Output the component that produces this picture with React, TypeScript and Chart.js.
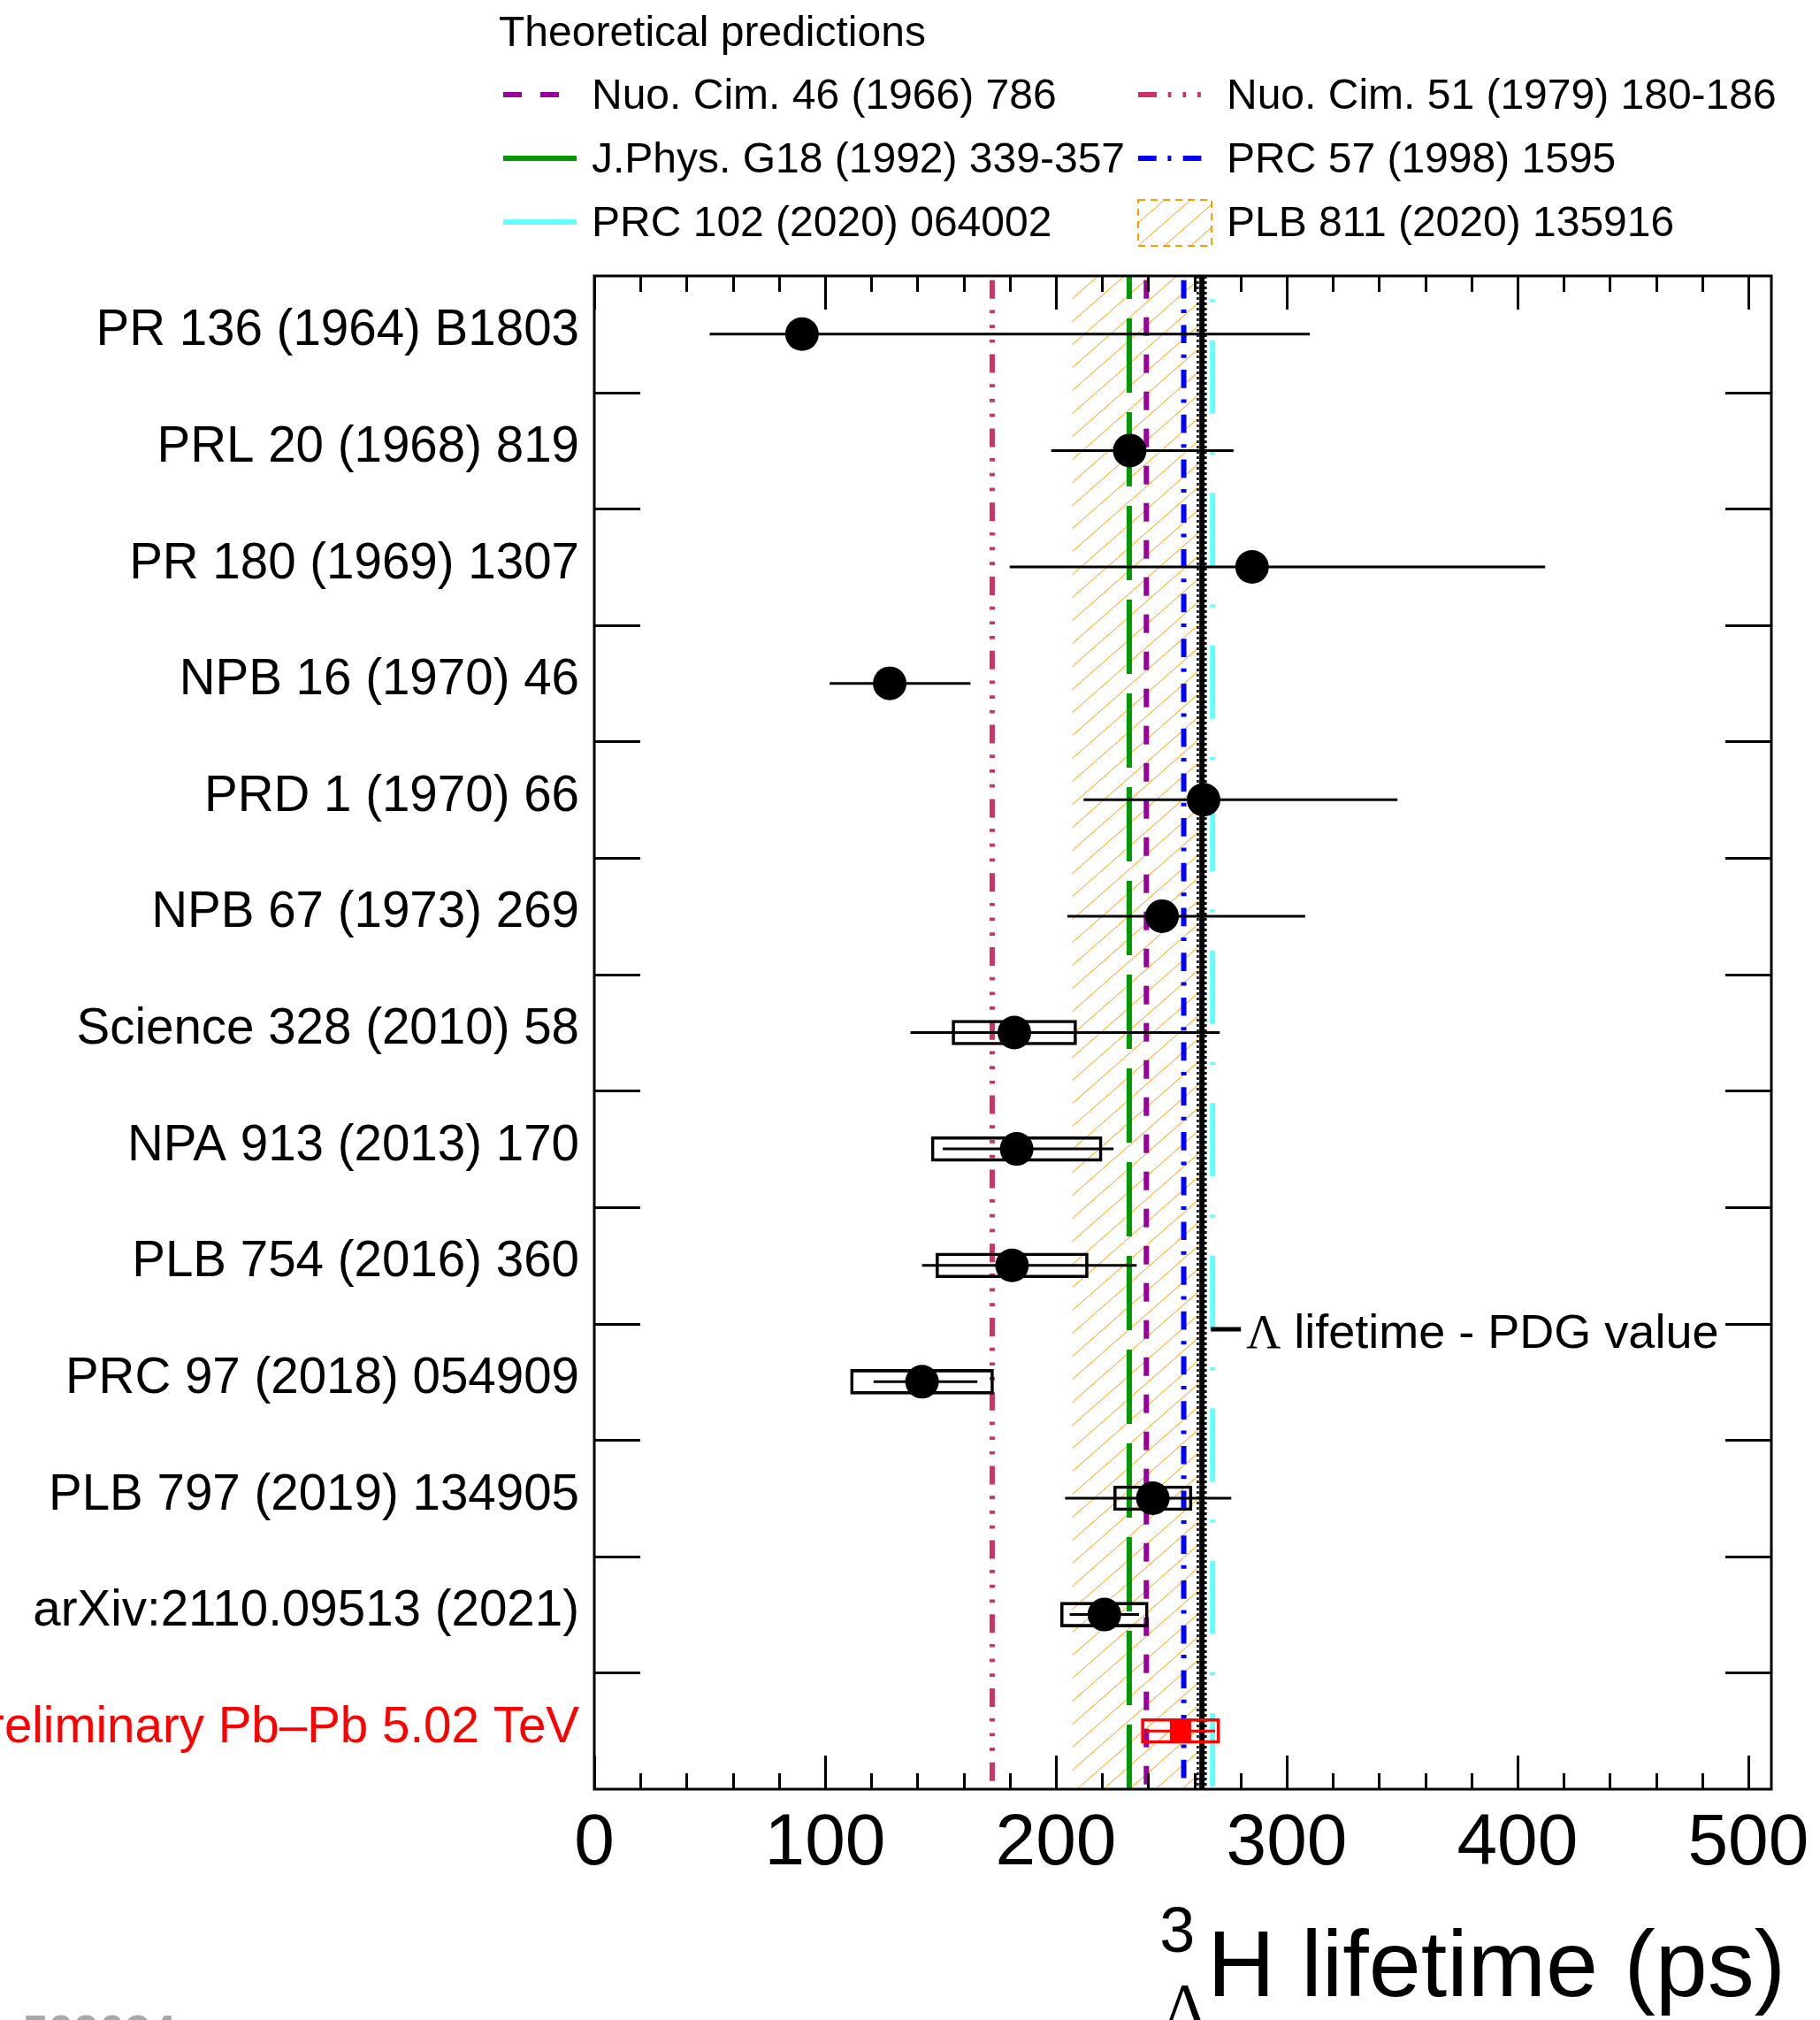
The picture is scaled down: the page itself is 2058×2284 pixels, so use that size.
import React, { useEffect, useRef } from "react";
import { Chart, registerables } from "chart.js";

Chart.register(...registerables);

const FONT = '"Liberation Sans", Arial, Helvetica, sans-serif';
const SERIF = '"Liberation Serif", "Times New Roman", serif';

// ---------------- data ----------------
const categories = [
  "PR 136 (1964) B1803",
  "PRL 20 (1968) 819",
  "PR 180 (1969) 1307",
  "NPB 16 (1970) 46",
  "PRD 1 (1970) 66",
  "NPB 67 (1973) 269",
  "Science 328 (2010) 58",
  "NPA 913 (2013) 170",
  "PLB 754 (2016) 360",
  "PRC 97 (2018) 054909",
  "PLB 797 (2019) 134905",
  "arXiv:2110.09513 (2021)",
  "ALICE Preliminary Pb\u2013Pb 5.02 TeV",
];
const lifetimes = [90, 232, 285, 128, 264, 246, 182, 183, 181, 142, 242, 221, 254];
const statErrLow = [40, 34, 105, 26, 52, 41, 45, 32, 39, 21, 38, 15, 15];
const statErrHigh = [220, 45, 127, 35, 84, 62, 89, 42, 54, 24, 34, 15, 15];
const systErr: (number | null)[] = [null, null, null, null, null, null, 27, 37, 33, 31, 17, 19, 17];
const isPreliminary = [false, false, false, false, false, false, false, false, false, false, false, false, true];

const legendTitle = "Theoretical predictions";
const theoryLabels = [
  "Nuo. Cim. 46 (1966) 786",
  "Nuo. Cim. 51 (1979) 180-186",
  "J.Phys. G18 (1992) 339-357",
  "PRC 57 (1998) 1595",
  "PRC 102 (2020) 064002",
];
const theoryValues = [239.2, 172.4, 231.8, 255.4, 267.9];
const bandLabel = "PLB 811 (2020) 135916";
const bandRange = [207, 262];

const pdgLabel = " lifetime - PDG value";
const pdgValue = 263.3;
const pdgRange = [261.5, 264.9];

const xMin = 0;
const xMax = 510;
const xTickLabels = [0, 100, 200, 300, 400, 500];
const xMajorStep = 100;
const xMinorStep = 20;
const xTitle = "H lifetime (ps)";
const watermark = "ALI-PREL-509034";

// ---------------- styles ----------------
const theoryColors = ["#990099", "#cc3366", "#009900", "#0000ff", "#66ffff"];
const theoryDashes = [
  [21, 21],
  [21, 12.7, 3.7, 13, 3.7, 13, 3.7, 13],
  [84, 22],
  [20.7, 12.7, 4, 13.3],
  [83, 43, 3.5, 43],
];
const theoryDashOffsets = [37.3, 79, 58, 46, 99.7];
const bandColor = "#ff9900";

const markColor = (i: number) => (isPreliminary[i] ? "#ff0000" : "#000000");

function drawHatch(ctx: CanvasRenderingContext2D, x0: number, y0: number, x1: number, y1: number) {
  const s = 0.878;
  const step = 26;
  ctx.save();
  ctx.beginPath();
  ctx.rect(x0, y0, x1 - x0, y1 - y0);
  ctx.clip();
  ctx.strokeStyle = bandColor;
  ctx.lineWidth = 1;
  ctx.setLineDash([]);
  ctx.beginPath();
  const w = x1 - x0;
  for (let c = y0; c <= y1 + s * w + step; c += step) {
    ctx.moveTo(x0, c);
    ctx.lineTo(x1, c - s * w);
  }
  ctx.stroke();
  ctx.restore();
}

const rootPlugin = {
  id: "rootStyle",
  beforeDatasetsDraw(chart: any) {
    const { ctx, chartArea: a, scales } = chart;
    const x = scales.x;
    const bx0 = x.getPixelForValue(bandRange[0]);
    const bx1 = x.getPixelForValue(bandRange[1]);
    drawHatch(ctx, bx0, a.top, bx1, a.bottom);
  },
  afterDatasetsDraw(chart: any) {
    const { ctx, chartArea: a, scales } = chart;
    const x = scales.x;
    const y = scales.y;
    ctx.save();
    ctx.strokeStyle = "#000";
    ctx.lineWidth = 3;
    ctx.setLineDash([]);
    ctx.beginPath();
    for (let v = xMin; v <= xMax + 1e-9; v += xMinorStep) {
      const px = Math.round(x.getPixelForValue(v)) + 0.5;
      const len = v % xMajorStep === 0 ? 38 : 18;
      ctx.moveTo(px, a.bottom);
      ctx.lineTo(px, a.bottom - len);
      ctx.moveTo(px, a.top);
      ctx.lineTo(px, a.top + len);
    }
    for (let i = 0; i < categories.length - 1; i++) {
      const py = Math.round(y.getPixelForValue(i + 0.5)) + 0.5;
      ctx.moveTo(a.left, py);
      ctx.lineTo(a.left + 52, py);
      ctx.moveTo(a.right - 52, py);
      ctx.lineTo(a.right, py);
    }
    ctx.stroke();
    ctx.strokeRect(a.left, a.top, a.right - a.left, a.bottom - a.top);
    ctx.restore();
  },
  afterDraw(chart: any) {
    const { ctx, chartArea: a, scales } = chart;
    const x = scales.x;
    const y = scales.y;
    ctx.save();
    ctx.textAlign = "left";
    ctx.textBaseline = "alphabetic";
    ctx.fillStyle = "#000";

    // legend
    ctx.font = `48px ${FONT}`;
    ctx.fillText(legendTitle, 564, 52);
    const colX = [569, 1287];
    const textX = [669, 1387];
    const rowY = [107, 179, 251];
    const entries = theoryLabels.length + 1;
    for (let k = 0; k < entries; k++) {
      const row = Math.floor(k / 2);
      const col = k % 2;
      const sx = colX[col];
      const cy = rowY[row];
      if (k < theoryLabels.length) {
        ctx.save();
        ctx.strokeStyle = theoryColors[k];
        ctx.lineWidth = 6;
        ctx.setLineDash(theoryDashes[k]);
        ctx.lineDashOffset = 0;
        ctx.beginPath();
        ctx.moveTo(sx, cy);
        ctx.lineTo(sx + 83, cy);
        ctx.stroke();
        ctx.restore();
        ctx.fillStyle = "#000";
        ctx.fillText(theoryLabels[k], textX[col], cy + 16);
      } else {
        drawHatch(ctx, sx, cy - 25, sx + 83, cy + 27);
        ctx.save();
        ctx.strokeStyle = bandColor;
        ctx.lineWidth = 2;
        ctx.setLineDash([8, 6]);
        ctx.strokeRect(sx, cy - 25, 83, 52);
        ctx.restore();
        ctx.fillStyle = "#000";
        ctx.fillText(bandLabel, textX[col], cy + 16);
      }
    }

    // PDG annotation
    const px = x.getPixelForValue(pdgValue);
    const py = y.getPixelForValue(8.55);
    ctx.strokeStyle = "#000";
    ctx.lineWidth = 5;
    ctx.setLineDash([]);
    ctx.beginPath();
    ctx.moveTo(px + 10, py);
    ctx.lineTo(px + 44, py);
    ctx.stroke();
    ctx.font = `54px ${SERIF}`;
    ctx.fillText("\u039B", px + 50, py + 21);
    const lw = ctx.measureText("\u039B").width;
    ctx.font = `54px ${FONT}`;
    ctx.fillText(pdgLabel, px + 50 + lw, py + 21);

    // x-axis title
    ctx.font = `106px ${FONT}`;
    const tw = ctx.measureText(xTitle).width;
    const hx = a.right + 16 - tw;
    ctx.fillText(xTitle, hx, 2257);
    ctx.font = `72px ${FONT}`;
    ctx.fillText("3", hx - 54, 2207);
    ctx.font = `72px ${SERIF}`;
    ctx.fillText("\u039B", hx - 51, 2292);

    // watermark
    ctx.font = `bold 52px ${FONT}`;
    ctx.fillStyle = "#a8a8a8";
    ctx.textAlign = "right";
    ctx.fillText(watermark, 199, 2315);
    ctx.restore();
  },
};

export default function App() {
  const ref = useRef<HTMLCanvasElement>(null);

  useEffect(() => {
    document.body.style.margin = "0";
    document.body.style.overflow = "hidden";
    const canvas = ref.current;
    if (!canvas) return;

    const yTop = -0.5;
    const yBottom = categories.length - 0.5;

    const theoryDatasets = theoryValues.map((v, k) => ({
      type: "line" as const,
      label: theoryLabels[k],
      data: [
        { x: v, y: yTop },
        { x: v, y: yBottom },
      ],
      borderColor: theoryColors[k],
      borderWidth: 6,
      borderDash: theoryDashes[k],
      borderDashOffset: theoryDashOffsets[k],
      pointRadius: 0,
      pointHoverRadius: 0,
      fill: false,
      tension: 0,
      order: 4,
    }));

    const pdgDatasets = [
      {
        type: "line" as const,
        label: "PDG",
        data: [
          { x: pdgValue, y: yTop },
          { x: pdgValue, y: yBottom },
        ],
        borderColor: "#000",
        borderWidth: 6,
        pointRadius: 0,
        fill: false,
        order: 3,
      },
      ...pdgRange.map((v) => ({
        type: "line" as const,
        label: "PDG err",
        data: [
          { x: v, y: yTop },
          { x: v, y: yBottom },
        ],
        borderColor: "#000",
        borderWidth: 2.5,
        borderDash: [3, 3],
        pointRadius: 0,
        fill: false,
        order: 3,
      })),
    ];

    const systIdx = systErr.map((s, i) => (s == null ? -1 : i)).filter((i) => i >= 0);
    const boxDataset = {
      type: "bar" as const,
      label: "syst",
      indexAxis: "y" as const,
      data: systIdx.map((i) => ({
        x: [lifetimes[i] - (systErr[i] as number), lifetimes[i] + (systErr[i] as number)],
        y: i,
      })),
      backgroundColor: "rgba(0,0,0,0)",
      borderColor: systIdx.map((i) => markColor(i)),
      borderWidth: 3,
      borderSkipped: false,
      barThickness: 28,
      grouped: false,
      order: 2,
    };

    const errDatasets = lifetimes.map((v, i) => ({
      type: "line" as const,
      label: "stat " + i,
      data: [
        { x: v - statErrLow[i], y: i },
        { x: v + statErrHigh[i], y: i },
      ],
      borderColor: markColor(i),
      borderWidth: 3,
      pointRadius: 0,
      fill: false,
      order: 1,
    }));

    const markerDataset = {
      type: "scatter" as const,
      label: "lifetime",
      data: lifetimes.map((v, i) => ({ x: v, y: i })),
      pointStyle: lifetimes.map((_, i) => (isPreliminary[i] ? "rect" : "circle")),
      pointRadius: lifetimes.map((_, i) => (isPreliminary[i] ? 17 : 19)),
      pointBackgroundColor: lifetimes.map((_, i) => markColor(i)),
      pointBorderColor: lifetimes.map((_, i) => markColor(i)),
      pointBorderWidth: 0,
      order: 0,
    };

    const chart = new Chart(canvas, {
      type: "scatter",
      data: {
        datasets: [
          markerDataset,
          ...errDatasets,
          boxDataset,
          ...pdgDatasets,
          ...theoryDatasets,
        ] as any,
      },
      options: {
        responsive: false,
        maintainAspectRatio: false,
        devicePixelRatio: 1,
        animation: false,
        events: [],
        layout: { padding: { top: 312, right: 55, bottom: 0, left: 0 } },
        plugins: {
          legend: { display: false },
          tooltip: { enabled: false },
        },
        scales: {
          x: {
            type: "linear",
            position: "bottom",
            min: xMin,
            max: xMax,
            offset: false,
            grid: { display: false, drawTicks: false },
            border: { display: false },
            ticks: {
              autoSkip: false,
              maxRotation: 0,
              minRotation: 0,
              padding: 21,
              color: "#000",
              font: { family: FONT, size: 82, lineHeight: 1 },
              callback: (v: any) => String(v),
            },
            afterBuildTicks: (s: any) => {
              s.ticks = xTickLabels.map((v) => ({ value: v }));
            },
            afterFit: (s: any) => {
              s.height = 261;
              s.paddingLeft = 0;
              s.paddingRight = 0;
            },
          },
          y: {
            type: "linear",
            position: "left",
            reverse: true,
            min: -0.5,
            max: categories.length - 0.5,
            offset: false,
            grid: { display: false, offset: false, drawTicks: false },
            border: { display: false },
            ticks: {
              autoSkip: false,
              padding: 17,
              labelOffset: -3,
              color: (ctx: any) => (isPreliminary[ctx.index] ? "#ff0000" : "#000000"),
              font: { family: FONT, size: 56.5, lineHeight: 1 },
              callback: (v: any) => categories[v] ?? "",
            },
            afterBuildTicks: (s: any) => {
              s.ticks = categories.map((_, i) => ({ value: i }));
            },
            afterFit: (s: any) => {
              s.width = 672;
              s.paddingTop = 0;
              s.paddingBottom = 0;
            },
          },
        } as any,
      },
      plugins: [rootPlugin],
    });

    return () => chart.destroy();
  }, []);

  return (
    <canvas
      ref={ref}
      width={2058}
      height={2284}
      style={{ display: "block", width: 2058, height: 2284 }}
    />
  );
}
